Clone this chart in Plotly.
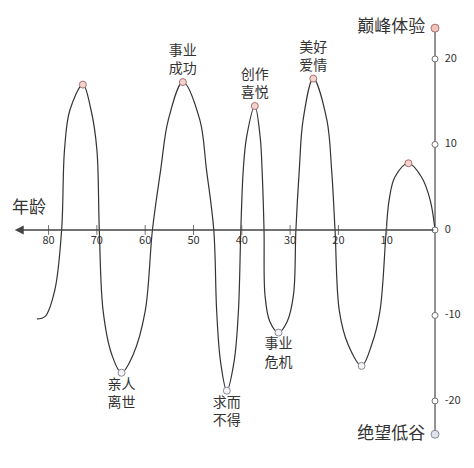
import plotly.graph_objects as go

# life curve: age (years) vs. experience score
ages = [0, 1.0, 2.8, 5.5, 8.3, 9.5,
        10.1, 11.4, 13.1, 15.2, 18.0, 19.8,
        20.7, 21.4, 22.4, 25.2, 27.3, 28.1,
        28.8, 29.3, 30.6, 32.4, 34.2, 35.2,
        35.4, 35.8, 36.2, 37.3, 39.0, 39.7,
        40.2, 40.7, 41.6, 43.1, 44.4, 45.2,
        45.8, 47.3, 48.7, 52.2, 55.2, 56.8,
        58.5, 60.0, 62.5, 64.9, 66.9, 68.7,
        69.5, 70.0, 71.2, 72.9, 75.6, 76.7,
        77.3, 78.7, 80.7, 82.4]
scores = [0, 3.5, 6.2, 7.8, 6.2, 3.5,
          0, -9.5, -13.4, -15.9, -13.4, -9.5,
          0, 7.0, 12.9, 17.7, 12.9, 7.0,
          0, -7.6, -10.7, -12.0, -10.7, -7.6,
          0, 7.0, 10.9, 14.5, 10.9, 7.0,
          0, -9.5, -15.4, -18.8, -15.4, -9.5,
          0, 7.0, 12.9, 17.3, 12.9, 7.0,
          0, -9.5, -14.6, -16.7, -14.6, -9.5,
          0, 9.4, 14.0, 17.0, 14.0, 9.4,
          0, -7.0, -10.1, -10.4]

# labelled highs and lows
peak_ages = [5.5, 25.2, 37.3, 52.2, 72.9]
peak_scores = [7.8, 17.7, 14.5, 17.3, 17.0]
peak_labels = ['', '美好<br>爱情', '创作<br>喜悦', '事业<br>成功', '']

low_ages = [15.2, 32.4, 43.1, 64.9]
low_scores = [-15.9, -12.0, -18.8, -16.7]
low_labels = ['', '事业<br>危机', '求而<br>不得', '亲人<br>离世']

age_ticks = [10, 20, 30, 40, 50, 60, 70, 80]
score_ticks = [20, 10, 0, -10, -20]
score_top = 23.6
score_bottom = -23.9

FONT = 'Noto Sans CJK SC'
ink = '#333333'
axis_col = '#6e6e6e'

fig = go.Figure()

# vertical score axis
fig.add_trace(go.Scatter(x=[0, 0], y=[score_bottom, score_top], mode='lines',
                         line=dict(color=axis_col, width=1.5), hoverinfo='skip'))

# curve
fig.add_trace(go.Scatter(x=ages, y=scores, mode='lines',
                         line=dict(color=ink, width=1.2, shape='spline', smoothing=1.0),
                         hoverinfo='skip'))

# age ticks and labels
fig.add_trace(go.Scatter(x=age_ticks, y=[0] * len(age_ticks), mode='markers+text',
                         marker=dict(symbol='line-ns', size=7, line=dict(color=axis_col, width=1)),
                         text=[str(a) for a in age_ticks], textposition='bottom center',
                         textfont=dict(family=FONT, size=11, color=ink), hoverinfo='skip'))

# score ticks
fig.add_trace(go.Scatter(x=[0] * len(score_ticks), y=score_ticks, mode='markers+text',
                         marker=dict(symbol='circle', size=6, color='white',
                                     line=dict(color=axis_col, width=1)),
                         text=['  ' + str(s) for s in score_ticks], textposition='middle right',
                         textfont=dict(family=FONT, size=11, color=ink), hoverinfo='skip'))

# peaks
fig.add_trace(go.Scatter(x=peak_ages, y=peak_scores, mode='markers+text',
                         marker=dict(size=7, color='#f3d3cd', line=dict(color='#a87070', width=1)),
                         text=peak_labels, textposition='top center',
                         textfont=dict(family=FONT, size=14, color=ink), hoverinfo='skip'))

# lows
fig.add_trace(go.Scatter(x=low_ages, y=low_scores, mode='markers+text',
                         marker=dict(size=7, color='#f4f4f6', line=dict(color='#8a8a95', width=1)),
                         text=low_labels, textposition='bottom center',
                         textfont=dict(family=FONT, size=14, color=ink), hoverinfo='skip'))

# top / bottom end markers
fig.add_trace(go.Scatter(x=[0, 0], y=[score_top, score_bottom], mode='markers+text',
                         marker=dict(size=8, color=['#f0c4ba', '#dfe2ea'],
                                     line=dict(color=['#a87070', '#8a8a95'], width=1)),
                         text=['巅峰体验 ', '绝望低谷 '], textposition='middle left',
                         textfont=dict(family=FONT, size=17, color=ink), hoverinfo='skip'))

# age axis with arrow
fig.add_annotation(x=87, y=0, ax=0, ay=0, xref='x', yref='y', axref='x', ayref='y',
                   showarrow=True, arrowhead=2, arrowsize=1.2, arrowwidth=1.5,
                   arrowcolor='#444444', text='')
fig.add_annotation(x=84, y=2.9, xref='x', yref='y', text='年龄', showarrow=False,
                   font=dict(family=FONT, size=17, color=ink))

# page body keeps an 8px margin, so the figure is a bit smaller than the window
fig.update_layout(
    width=466, height=460,
    margin=dict(l=0, r=0, t=0, b=0),
    paper_bgcolor='white', plot_bgcolor='white',
    showlegend=False,
    xaxis=dict(range=[88.4, -8.07], visible=False, fixedrange=True),
    yaxis=dict(range=[-27.84, 25.96], visible=False, fixedrange=True),
)

fig.write_html("out.html")
